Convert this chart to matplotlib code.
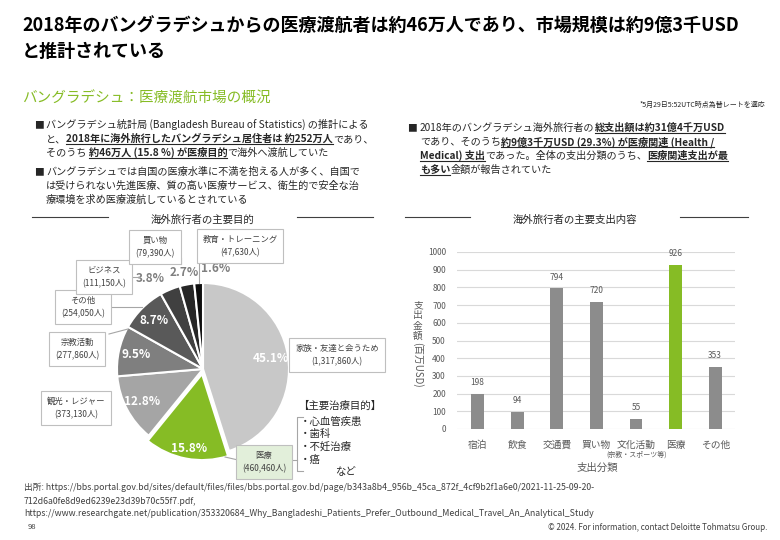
import matplotlib
matplotlib.use("Agg")
import matplotlib.pyplot as plt
from matplotlib.lines import Line2D

plt.rcParams['font.family'] = ['Noto Sans CJK JP', 'DejaVu Sans']

W, H = 780, 540

# pie data: main purpose of outbound travellers
purposes = ['家族・友達と会うため', '医療', '観光・レジャー', '宗教活動', 'その他', 'ビジネス', '買い物', '教育・トレーニング']
travellers = [1317860, 460460, 373130, 277860, 254050, 111150, 79390, 47630]
pie_colors = ['#c8c8c8', '#86bc25', '#a5a5a5', '#7f7f7f', '#595959', '#404040', '#262626', '#0d0d0d']

# bar data: spending (million USD)
spend_cats = ['宿泊', '飲食', '交通費', '買い物', '文化活動', '医療', 'その他']
spend_vals = [198, 94, 794, 720, 55, 926, 353]
bar_colors = ['#8c8c8c'] * 5 + ['#86bc25', '#8c8c8c']

treatments = ['・心血管疾患', '・歯科', '・不妊治療', '・癌']

fig = plt.figure(figsize=(7.8, 5.4), dpi=100)
renderer = fig.canvas.get_renderer()


def fx(x):
    return x / W


def fy(y):
    return 1 - y / H


def line(xs, ys, color='#a6a6a6', lw=0.8):
    fig.add_artist(Line2D([fx(x) for x in xs], [fy(y) for y in ys],
                          transform=fig.transFigure, color=color, lw=lw))


def runs(x, y, parts, size=7.3, color='#262626'):
    cur = x
    for s, bold, ul in parts:
        t = fig.text(fx(cur), fy(y), s, fontsize=size, color=color, ha='left', va='baseline',
                     fontweight='bold' if bold else 'normal')
        w = t.get_window_extent(renderer).width
        if ul:
            line([cur, cur + w], [y + 2, y + 2], color=color, lw=0.8)
        cur += w


# ---- title / header ----
fig.text(fx(22), fy(26), '2018年のバングラデシュからの医療渡航者は約46万人であり、市場規模は約9億3千USD',
         fontsize=13, fontweight='bold', va='center', ha='left', color='black')
fig.text(fx(22), fy(51), 'と推計されている', fontsize=13, fontweight='bold', va='center', ha='left', color='black')
fig.text(fx(22), fy(98), 'バングラデシュ：医療渡航市場の概況', fontsize=10.5, color='#86bc25', va='center', ha='left')
fig.text(fx(765), fy(105), '*5月29日5:52UTC時点為替レートを適応', fontsize=5, color='#262626', va='center', ha='right')

# ---- left bullets ----
fig.text(fx(34), fy(128), '■', fontsize=7, va='baseline', ha='left', color='#262626')
runs(46, 128, [('バングラデシュ統計局 (Bangladesh Bureau of Statistics) の推計による', False, False)])
runs(46, 142, [('と、', False, False), ('2018年に海外旅行したバングラデシュ居住者は 約252万人', True, True),
               ('であり、', False, False)])
runs(46, 156, [('そのうち ', False, False), ('約46万人 (15.8 %) が医療目的', True, True),
               ('で海外へ渡航していた', False, False)])
fig.text(fx(34), fy(175), '■', fontsize=7, va='baseline', ha='left', color='#262626')
runs(46, 175, [('バングラデシュでは自国の医療水準に不満を抱える人が多く、自国で', False, False)])
runs(46, 189, [('は受けられない先進医療、質の高い医療サービス、衛生的で安全な治', False, False)])
runs(46, 203, [('療環境を求め医療渡航しているとされている', False, False)])

# ---- right bullet ----
fig.text(fx(407), fy(131), '■', fontsize=7, va='baseline', ha='left', color='#262626')
runs(420, 131, [('2018年のバングラデシュ海外旅行者の', False, False), ('総支出額は約31億4千万USD', True, True)])
runs(420, 145, [('であり、そのうち', False, False), ('約9億3千万USD (29.3%) が医療関連 (Health /', True, True)])
runs(420, 159, [('Medical) 支出', True, True), ('であった。全体の支出分類のうち、', False, False),
                ('医療関連支出が最', True, True)])
runs(420, 173, [('も多い', True, True), ('金額が報告されていた', False, False)])

# ---- section headers ----
fig.text(fx(202), fy(220), '海外旅行者の主要目的', fontsize=7.5, ha='center', va='center', color='#262626')
line([32, 108], [217, 217], color='#404040')
line([297, 373], [217, 217], color='#404040')
fig.text(fx(575), fy(220), '海外旅行者の主要支出内容', fontsize=7.5, ha='center', va='center', color='#262626')
line([405, 470], [217, 217], color='#404040')
line([680, 748], [217, 217], color='#404040')

# ---- pie ----
cx, cy, R = 203, 369, 86
ax1 = fig.add_axes([fx(20), fy(485), (400 - 20) / W, (485 - 230) / H])
explode = [0, 0.06, 0, 0, 0, 0, 0, 0]
wedges, _, autotexts = ax1.pie(travellers, colors=pie_colors, startangle=90, counterclock=False,
                               explode=explode, autopct='%.1f%%', pctdistance=0.8,
                               wedgeprops=dict(edgecolor='white', linewidth=1.5),
                               textprops=dict(fontsize=8.5, fontweight='bold', color='white'))
ax1.set_xlim((20 - cx) / R, (400 - cx) / R)
ax1.set_ylim((cy - 485) / R, (cy - 230) / R)
ax1.set_aspect('equal', adjustable='datalim')
ax1.axis('off')
autotexts[1].set_position((-0.16, -0.93))
outer_pos = {5: (150, 279), 6: (184, 272), 7: (216, 269)}
for i, (px, py) in outer_pos.items():
    autotexts[i].set_position(((px - cx) / R, (cy - py) / R))
    autotexts[i].set_color('#7f7f7f')


def box(x, y, name, count, fc='white'):
    fig.text(fx(x), fy(y), name + '\n(' + count + '人)', fontsize=6, color='#404040', ha='center',
             va='center', linespacing=1.6,
             bbox=dict(boxstyle='square,pad=0.7', fc=fc, ec='#bfbfbf', lw=0.8))


box(337, 355, purposes[0], '1,317,860')
box(264, 462, purposes[1], '460,460', fc='#e2efda')
box(76, 408, purposes[2], '373,130')
box(77, 349, purposes[3], '277,860')
box(83, 307, purposes[4], '254,050')
box(104, 277, purposes[5], '111,150')
box(155, 247, purposes[6], '79,390')
box(240, 246, purposes[7], '47,630')
line([225, 238], [457, 460])
line([109, 142], [307, 307])
line([109, 128], [334, 329])
line([132, 140], [277, 277])
line([181, 181], [258, 264])
line([199, 199, 206], [283, 247, 247])

# treatment bracket
fig.text(fx(298), fy(406), '【主要治療目的】', fontsize=7.5, ha='left', va='center', color='#262626')
line([303, 297, 297, 303], [417, 417, 471, 471])
line([290, 297], [460, 460])
for i, t in enumerate(treatments):
    fig.text(fx(300), fy(422 + i * 12.5), t, fontsize=7.5, ha='left', va='center', color='#262626')
fig.text(fx(335), fy(472), 'など', fontsize=7.5, ha='left', va='center', color='#262626')

# ---- bars ----
ax2 = fig.add_axes([fx(457), fy(429), (735 - 457) / W, (429 - 252) / H])
xs = range(len(spend_cats))
bars = ax2.bar(xs, spend_vals, width=0.32, color=bar_colors, zorder=3)
for x, v in zip(xs, spend_vals):
    ax2.annotate(str(v), (x, v), xytext=(0, 5), textcoords='offset points', ha='center', va='bottom',
                 fontsize=6, color='#595959')
ax2.set_ylim(0, 1000)
ax2.set_xlim(-0.52, 6.5)
ax2.set_yticks(range(0, 1001, 100))
ax2.grid(axis='y', color='#d9d9d9', lw=0.8, zorder=0)
for s in ax2.spines.values():
    s.set_visible(False)
ax2.tick_params(axis='y', length=0, labelsize=6, labelcolor='#595959', pad=8)
ax2.tick_params(axis='x', length=0, labelsize=7, labelcolor='#595959', pad=8)
ax2.set_xticks(list(xs))
ax2.set_xticklabels(spend_cats)
fig.text(fx(4 * 39.67 + 478), fy(455), '(宗教・スポーツ等)', fontsize=5, ha='center', va='center', color='#595959')
fig.text(fx(597), fy(468), '支出分類', fontsize=7.5, ha='center', va='center', color='#595959')
fig.text(fx(418), fy(300), '支\n出\n金\n額', fontsize=7, ha='center', va='top', color='#595959', linespacing=1.05)
fig.text(fx(418), fy(342), '(百万USD)', fontsize=7, ha='center', va='top', rotation=270, color='#595959')

# ---- footer ----
foot = '#404040'
fs = 6.3
fig.text(fx(24), fy(487), '出所: https://bbs.portal.gov.bd/sites/default/files/files/bbs.portal.gov.bd/page/'
         'b343a8b4_956b_45ca_872f_4cf9b2f1a6e0/2021-11-25-09-20-', fontsize=fs, va='center', color=foot)
fig.text(fx(24), fy(501), '712d6a0fe8d9ed6239e23d39b70c55f7.pdf,', fontsize=fs, va='center', color=foot)
fig.text(fx(24), fy(514), 'https://www.researchgate.net/publication/353320684_Why_Bangladeshi_Patients_Prefer_'
         'Outbound_Medical_Travel_An_Analytical_Study', fontsize=fs, va='center', color=foot)
fig.text(fx(28), fy(527), '98', fontsize=5.5, va='center', color=foot)
fig.text(fx(768), fy(527), '© 2024. For information, contact Deloitte Tohmatsu Group.', fontsize=5.8,
         va='center', ha='right', color=foot)

fig.savefig('out.png', dpi=100)
